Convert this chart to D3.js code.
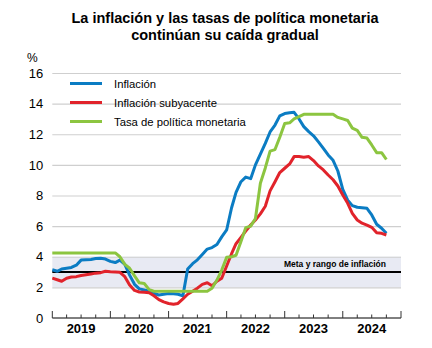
<!DOCTYPE html>
<html>
<head>
<meta charset="utf-8">
<script src="https://cdn.jsdelivr.net/npm/d3@7"></script>
<style>
  html, body { margin: 0; padding: 0; background: #fff; }
  svg { display: block; font-family: "Liberation Sans", Arial, sans-serif; }
</style>
</head>
<body>
<svg id="chart" width="432" height="348"></svg>
<script>
// Monthly series, Jan 2019 – Oct 2024 (%)
const inflation = [
  3.15, 3.05, 3.2, 3.25, 3.3, 3.45, 3.78, 3.8, 3.82, 3.88, 3.9, 3.85,
  3.7, 3.62, 3.78, 3.5, 2.8, 2.2, 1.9, 1.83, 1.75, 1.6, 1.5, 1.55,
  1.6, 1.58, 1.55, 1.45, 3.2, 3.55, 3.8, 4.15, 4.5, 4.6, 4.8, 5.3,
  5.75, 7.2, 8.2, 8.9, 9.2, 9.1, 10.0, 10.7, 11.4, 12.15, 12.6, 13.2,
  13.35, 13.4, 13.43, 13.0, 12.5, 12.17, 11.9, 11.5, 11.08, 10.65, 10.3, 9.6,
  8.4, 7.7, 7.34, 7.23, 7.2, 7.16, 6.73, 6.12, 5.86, 5.53
];
const coreInflation = [
  2.6, 2.5, 2.4, 2.6, 2.68, 2.7, 2.78, 2.83, 2.88, 2.93, 2.96, 3.05,
  3.02, 3.0, 2.98, 2.7, 2.15, 1.8, 1.7, 1.68, 1.65, 1.45, 1.2, 1.05,
  0.95, 0.9, 0.95, 1.25, 1.55, 1.75, 1.95, 2.2, 2.3, 2.1, 2.4, 2.6,
  3.4, 4.2, 4.85, 5.27, 5.68, 6.07, 6.4, 6.8, 7.3, 8.3, 8.9, 9.5,
  9.78, 10.06, 10.54, 10.54, 10.5, 10.54, 10.28, 9.93, 9.67, 9.34, 9.03, 8.62,
  8.03, 7.49, 6.84, 6.4, 6.19, 6.07, 5.92, 5.57, 5.53, 5.42
];
const policyRate = [
  4.25, 4.25, 4.25, 4.25, 4.25, 4.25, 4.25, 4.25, 4.25, 4.25, 4.25, 4.25,
  4.25, 4.25, 4.0, 3.5, 3.25, 2.75, 2.3, 2.25, 1.85, 1.75, 1.75, 1.75,
  1.75, 1.75, 1.75, 1.75, 1.75, 1.75, 1.75, 1.75, 1.75, 1.94, 2.48, 3.13,
  3.96, 4.0, 4.1, 5.0, 5.9, 6.0, 6.5, 8.8, 9.8, 10.9, 11.0, 11.8,
  12.7, 12.75, 13.0, 13.15, 13.3, 13.3, 13.3, 13.3, 13.3, 13.3, 13.3, 13.1,
  13.0, 12.9, 12.4, 12.25, 11.8, 11.75, 11.3, 10.8, 10.8, 10.35
];
const seriesNames = ["Inflación", "Inflación subyacente", "Tasa de política monetaria"];
const seriesColors = ["#0b7cc3", "#e1232b", "#8cc540"];
const yTicks = [0, 2, 4, 6, 8, 10, 12, 14, 16];
const yearLabels = ["2019", "2020", "2021", "2022", "2023", "2024"];
const targetBand = [2, 4];
const targetLine = 3;
const targetLabel = "Meta y rango de inflación";

const months = d3.timeMonth.range(new Date(2019, 0, 1), new Date(2024, 10, 1));
const series = [inflation, coreInflation, policyRate];

const svg = d3.select("#chart");
const m = { left: 52.3, right: 401, top: 73, bottom: 318 };

const x = d3.scaleTime()
  .domain([new Date(2019, 0, 1), new Date(2025, 0, 1)])
  .range([m.left, m.right]);
const y = d3.scaleLinear().domain([0, 16]).range([m.bottom, m.top]);

// Title
svg.append("text")
  .attr("x", 225).attr("y", 23)
  .attr("text-anchor", "middle")
  .attr("font-size", 14.5).attr("font-weight", "bold")
  .text("La inflación y las tasas de política monetaria");
svg.append("text")
  .attr("x", 225).attr("y", 40)
  .attr("text-anchor", "middle")
  .attr("font-size", 14.5).attr("font-weight", "bold")
  .text("continúan su caída gradual");

svg.append("text")
  .attr("x", 27).attr("y", 62)
  .attr("font-size", 12)
  .text("%");

// Target band
svg.append("rect")
  .attr("x", m.left).attr("width", m.right - m.left)
  .attr("y", y(targetBand[1])).attr("height", y(targetBand[0]) - y(targetBand[1]))
  .attr("fill", "#e8eaf3");

// Horizontal grid + y labels
const yAxis = d3.axisLeft(y).tickValues(yTicks).tickSize(-(m.right - m.left)).tickPadding(9);
const gy = svg.append("g").attr("transform", `translate(${m.left},0)`).call(yAxis);
gy.select(".domain").remove();
gy.selectAll(".tick line").attr("stroke", "#cfcfcf").attr("stroke-width", 1.2)
  .filter(d => d === 0).remove();
gy.selectAll(".tick text")
  .attr("font-size", 13).attr("fill", "#000")
  .attr("font-family", "Liberation Sans, Arial, sans-serif");

// Target line
svg.append("line")
  .attr("x1", m.left).attr("x2", m.right)
  .attr("y1", y(targetLine)).attr("y2", y(targetLine))
  .attr("stroke", "#000").attr("stroke-width", 2);

svg.append("text")
  .attr("x", 386).attr("y", 267)
  .attr("text-anchor", "end")
  .attr("font-size", 8.5).attr("font-weight", "bold")
  .text(targetLabel);

// Series lines
const line = d3.line()
  .x((d, i) => x(months[i]))
  .y(d => y(d));

series.forEach((vals, k) => {
  svg.append("path")
    .datum(vals)
    .attr("fill", "none")
    .attr("stroke", seriesColors[k])
    .attr("stroke-width", 3)
    .attr("stroke-linejoin", "round")
    .attr("d", line);
});

// X axis: year ticks (long) and quarter ticks (short)
const gx = svg.append("g").attr("transform", `translate(0,${m.bottom})`);
gx.append("line")
  .attr("x1", m.left).attr("x2", m.right)
  .attr("stroke", "#000").attr("stroke-width", 1);
const quarters = d3.timeMonth.every(3).range(new Date(2019, 0, 1), new Date(2025, 0, 2));
gx.selectAll("line.tick")
  .data(quarters)
  .join("line")
  .attr("class", "tick")
  .attr("x1", d => x(d)).attr("x2", d => x(d))
  .attr("y1", d => d.getMonth() === 0 ? -7 : -3.5).attr("y2", 0)
  .attr("stroke", "#333").attr("stroke-width", 1);

gx.selectAll("text.year")
  .data(yearLabels)
  .join("text")
  .attr("class", "year")
  .attr("x", d => x(new Date(+d, 6, 1)))
  .attr("y", 15)
  .attr("text-anchor", "middle")
  .attr("font-size", 13).attr("font-weight", "bold")
  .text(d => d);

// Legend
const legend = svg.append("g");
seriesNames.forEach((name, k) => {
  const ly = 83.5 + k * 19;
  legend.append("line")
    .attr("x1", 70).attr("x2", 102)
    .attr("y1", ly).attr("y2", ly)
    .attr("stroke", seriesColors[k]).attr("stroke-width", 3);
  legend.append("text")
    .attr("x", 114).attr("y", ly + 4)
    .attr("font-size", 11.3)
    .text(name);
});
</script>
</body>
</html>
